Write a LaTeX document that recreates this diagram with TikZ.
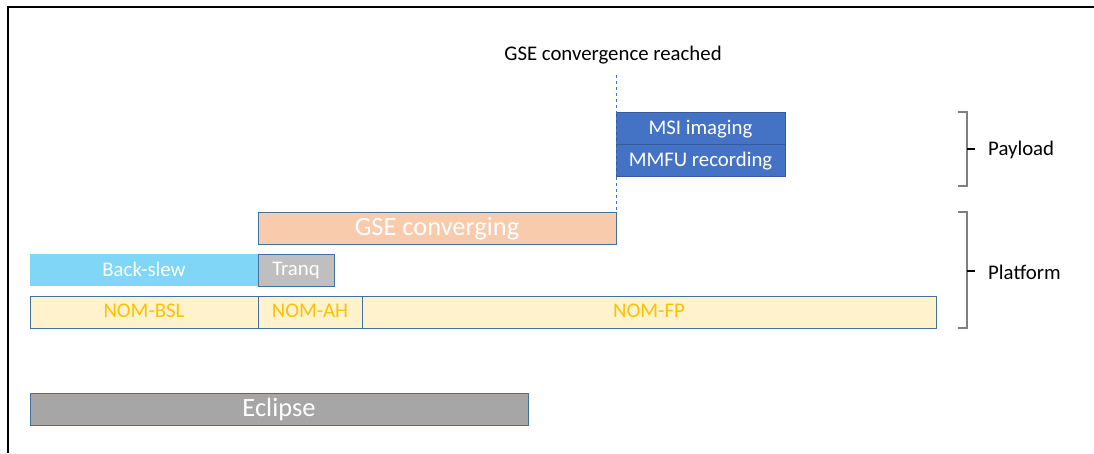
\documentclass[tikz,border=0pt]{standalone}
\usepackage{fontspec}
\setmainfont{Carlito}
\usetikzlibrary{positioning}
\definecolor{msiblue}{HTML}{4472C4}
\definecolor{edgeblue}{HTML}{41719C}
\definecolor{gsepeach}{HTML}{F8CBAD}
\definecolor{slewblue}{HTML}{7FD6F7}
\definecolor{tranqgrey}{HTML}{BFBFBF}
\definecolor{nomfill}{HTML}{FFF2CC}
\definecolor{nomtext}{HTML}{FFC000}
\definecolor{eclgrey}{HTML}{A6A6A6}
\definecolor{brgrey}{HTML}{7F7F7F}
\begin{document}
\begin{tikzpicture}[x=1pt,y=-1pt,
  bar/.style={draw=edgeblue, line width=1pt, anchor=north west, minimum height=32pt,
    inner sep=0pt, outer sep=0pt, text=white, text depth=2pt, font=\fontsize{20.8}{24}\selectfont},
  bigbar/.style={bar, text depth=3pt, font=\fontsize{26.4}{30}\selectfont},
  nom/.style={bar, fill=nomfill, text=nomtext},
  bracket/.style={draw=brgrey, line width=2pt},
  side/.style={anchor=west, inner sep=0pt, font=\fontsize{20.8}{24}\selectfont}]
\useasboundingbox (0,0) rectangle (1094,453);
% frame
\draw[line width=2pt] (8,453) -- (8,7) -- (1094,7);
% payload
\node[bar, fill=msiblue, draw=msiblue!80!black, minimum width=169pt] (msi) at (616,112) {MSI imaging};
\node[bar, fill=msiblue, draw=msiblue!80!black, minimum width=169pt] (mmfu) at (msi.south west) {MMFU recording};
% platform
\node[bigbar, fill=gsepeach, minimum width=358pt] (gse) at (258,212) {GSE converging};
\node[bar, fill=slewblue, draw=none, minimum width=228pt] (slew) at (30,254) {Back-slew};
\node[bar, fill=tranqgrey, minimum width=76pt] (tranq) at (slew.north east) {Tranq};
\node[nom, minimum width=228pt] (bsl) at (30,296) {NOM-BSL};
\node[nom, minimum width=104pt] (ah) at (bsl.north east) {NOM-AH};
\node[nom, minimum width=574pt] (fp) at (ah.north east) {NOM-FP};
\node[bigbar, fill=eclgrey, minimum width=498pt] (eclipse) at (30,393) {Eclipse};
% convergence marker
\coordinate (mark) at (616,75);
\node[inner sep=0pt, font=\fontsize{20.8}{24}\selectfont] (reached) at (613,55) {GSE convergence reached};
\draw[msiblue, dashed, line width=1pt] (mark) -- (gse.north east);
% brackets
\draw[bracket] (958,112) -- (967,112) -- (967,186) -- (958,186);
\draw[line width=2pt] (967,149) -- (975,149);
\node[side] (payload) at (988,150) {Payload};
\draw[bracket] (958,212) -- (967,212) -- (967,328) -- (958,328);
\draw[line width=2pt] (967,271) -- (975,271);
\node[side] (platform) at (988,272) {Platform};
\end{tikzpicture}
\end{document}
